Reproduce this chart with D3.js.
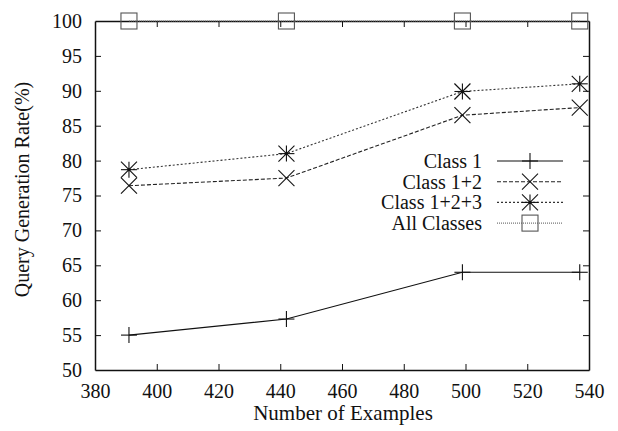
<!DOCTYPE html>
<html>
<head>
<meta charset="utf-8">
<script src="https://cdn.jsdelivr.net/npm/d3@7"></script>
</head>
<body style="margin:0; background:#fff">
<div id="chart"></div>
<script>
// data
var examples = [391, 442, 499, 537];
var class1 = [55.0, 57.3, 64.0, 64.0];
var class12 = [76.4, 77.5, 86.5, 87.6];
var class123 = [78.7, 81.0, 89.9, 91.0];
var allClasses = [100, 100, 100, 100];
var seriesNames = ["Class 1", "Class 1+2", "Class 1+2+3", "All Classes"];
var xTicks = [380, 400, 420, 440, 460, 480, 500, 520, 540];
var yTicks = [50, 55, 60, 65, 70, 75, 80, 85, 90, 95, 100];

// set the dimensions and margins of the graph
var W = 618, H = 431;
var margin = {top: 21, right: 29, bottom: 61, left: 95},
width = W - margin.left - margin.right,
height = H - margin.top - margin.bottom;

var x = d3.scaleLinear().domain([380, 540]).range([0, width]);
var y = d3.scaleLinear().domain([50, 100]).range([height, 0]);

var svg = d3.select("#chart").append("svg")
        .attr("width", W)
        .attr("height", H)
    .append("g")
        .attr("transform", "translate(" + margin.left + "," + margin.top + ")");

// series styles (gnuplot look)
var styles = [
  {vals: class1, dash: null, stroke: "#111", marker: "plus"},
  {vals: class12, dash: "4,2", stroke: "#222", marker: "cross"},
  {vals: class123, dash: "2,2", stroke: "#333", marker: "star"},
  {vals: allClasses, dash: "1,1", stroke: "#777", marker: "square"}
];

function drawMarker(g, type, cx, cy) {
  var r = 8;
  var m = g.append("g").attr("transform", "translate(" + cx + "," + cy + ")")
    .attr("stroke", "#111").attr("stroke-width", 1.1).attr("fill", "none");
  if (type === "plus" || type === "star") {
    m.append("line").attr("x1", -r).attr("x2", r).attr("y1", 0).attr("y2", 0);
    m.append("line").attr("x1", 0).attr("x2", 0).attr("y1", -r).attr("y2", r);
  }
  if (type === "cross" || type === "star") {
    m.append("line").attr("x1", -r).attr("x2", r).attr("y1", -r).attr("y2", r);
    m.append("line").attr("x1", -r).attr("x2", r).attr("y1", r).attr("y2", -r);
  }
  if (type === "star") {
    m.append("circle").attr("r", 1.6).attr("fill", "#111").attr("stroke", "none");
  }
  if (type === "square") {
    m.attr("stroke", "#555");
    m.append("rect").attr("x", -r).attr("y", -r).attr("width", 2 * r).attr("height", 2 * r);
  }
}

// axes with inward ticks on all four sides
var axisB = d3.axisBottom(x).tickValues(xTicks).tickSizeInner(-6).tickSizeOuter(0).tickPadding(14);
var axisT = d3.axisTop(x).tickValues(xTicks).tickSizeInner(-6).tickSizeOuter(0).tickFormat("");
var axisL = d3.axisLeft(y).tickValues(yTicks).tickSizeInner(-6).tickSizeOuter(0).tickPadding(13);
var axisR = d3.axisRight(y).tickValues(yTicks).tickSizeInner(-6).tickSizeOuter(0).tickFormat("");

var gB = svg.append("g").attr("transform", "translate(0," + height + ")").call(axisB);
var gT = svg.append("g").call(axisT);
var gL = svg.append("g").call(axisL);
var gR = svg.append("g").attr("transform", "translate(" + width + ",0)").call(axisR);
[gB, gT, gL, gR].forEach(function(g) {
  g.select(".domain").attr("stroke", "#111").attr("stroke-width", 1.5);
  g.selectAll(".tick line").attr("stroke", "#111").attr("stroke-width", 1);
  g.selectAll("text").attr("fill", "#111");
});
// hide end ticks that fall on the frame
[gB, gT].forEach(function(g) {
  g.selectAll(".tick line").filter(function(d) { return d === 380 || d === 540; }).remove();
});
[gL, gR].forEach(function(g) {
  g.selectAll(".tick line").filter(function(d) { return d === 50 || d === 100; }).remove();
});

// lines
var line = d3.line()
  .x(function(d, i) { return x(examples[i]); })
  .y(function(d) { return y(d); });

styles.forEach(function(s) {
  svg.append("path")
    .datum(s.vals)
    .attr("fill", "none")
    .attr("stroke", s.stroke)
    .attr("stroke-width", 1.1)
    .attr("stroke-dasharray", s.dash)
    .attr("d", line);
  s.vals.forEach(function(v, i) {
    drawMarker(svg, s.marker, x(examples[i]), y(v));
  });
});

// legend
var legend = svg.append("g").attr("transform", "translate(" + (482 - margin.left) + "," + (161 - margin.top) + ")");
seriesNames.forEach(function(name, i) {
  var row = legend.append("g").attr("transform", "translate(0," + (i * 20.7) + ")");
  row.append("text").attr("text-anchor", "end").attr("dy", "0.35em").text(name);
  row.append("line").attr("x1", 15).attr("x2", 81).attr("y1", 0).attr("y2", 0)
    .attr("stroke", styles[i].stroke).attr("stroke-width", 1.1)
    .attr("stroke-dasharray", styles[i].dash);
  drawMarker(row, styles[i].marker, 48, 0);
});

// axis titles
var xTitle = svg.append("text")
  .attr("x", width / 2 + 1)
  .attr("y", height + 50)
  .attr("text-anchor", "middle")
  .text("Number of Examples");

svg.append("text")
  .attr("transform", "translate(" + (-66) + "," + (height / 2 - 6) + ") rotate(-90)")
  .attr("text-anchor", "middle")
  .text("Query Generation Rate(%)");

// serif font for every label
d3.select("#chart").selectAll("text")
  .style("font-family", "'Liberation Serif'")
  .style("font-size", "20px")
  .style("fill", "#111");
xTitle.style("font-size", "21px");
</script>
</body>
</html>
